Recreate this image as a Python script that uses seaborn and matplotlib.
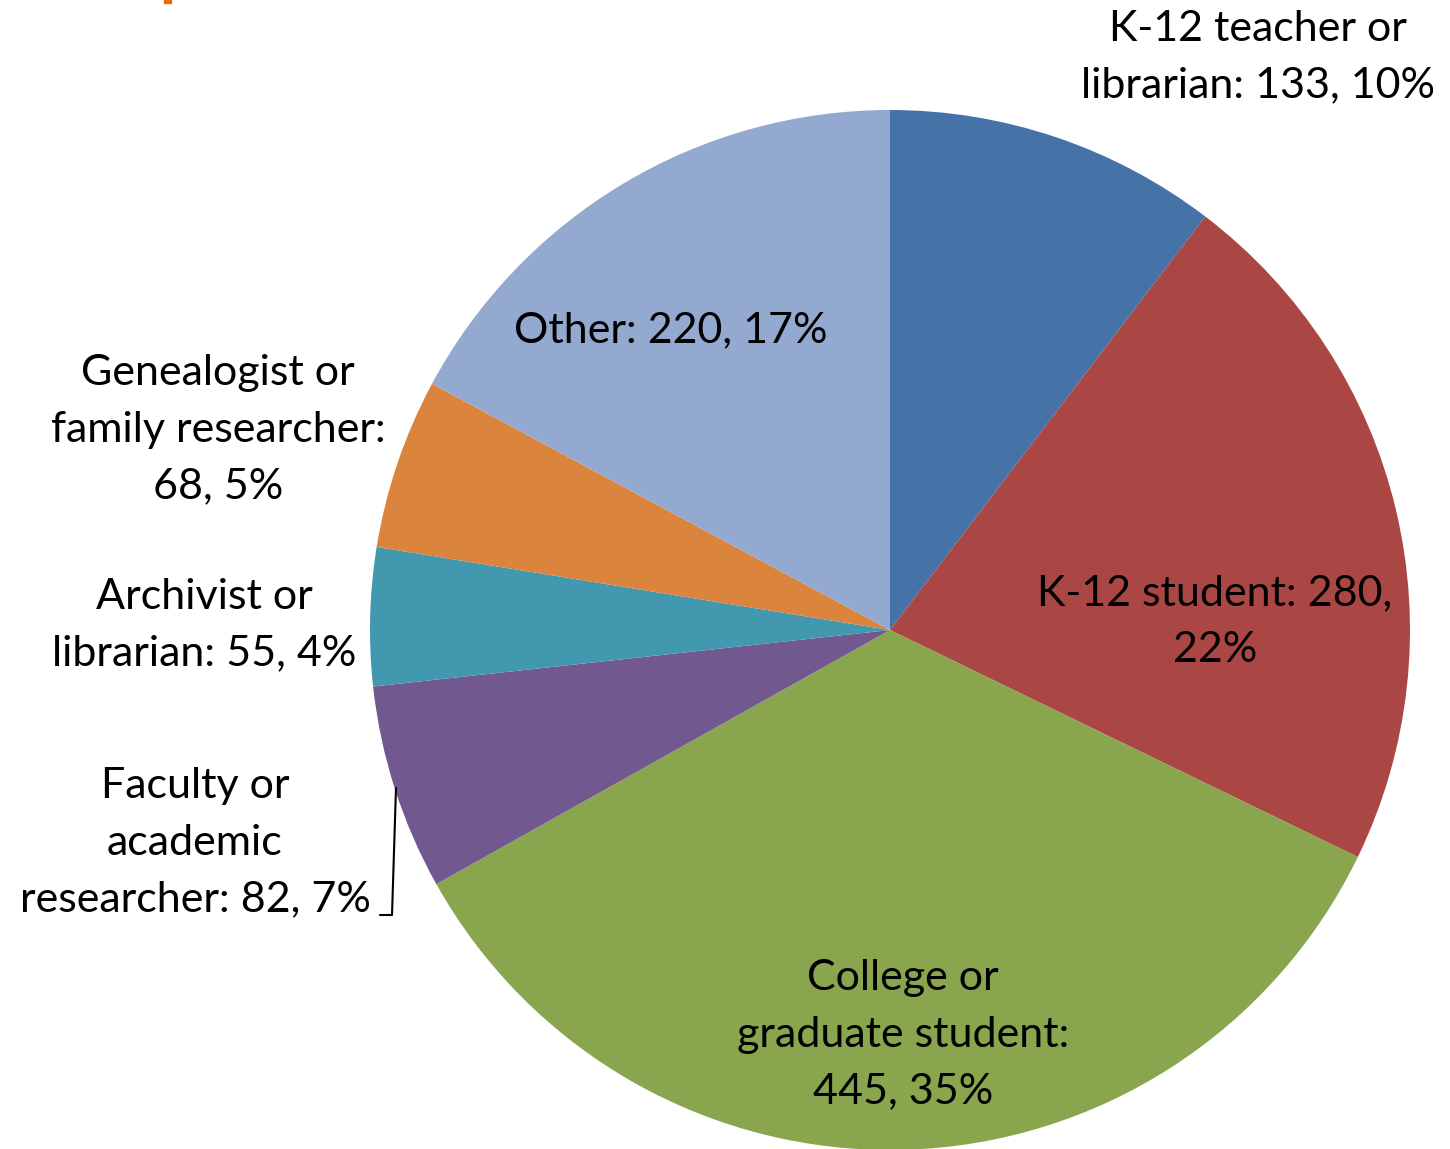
import matplotlib
matplotlib.use("Agg")
import matplotlib.pyplot as plt
import seaborn as sns

categories = ["K-12 teacher or librarian", "K-12 student", "College or graduate student",
              "Faculty or academic researcher", "Archivist or librarian",
              "Genealogist or family researcher", "Other"]
counts = [133, 280, 445, 82, 55, 68, 220]
colors = ["#4572A7", "#AA4643", "#89A54E", "#71588F", "#4198AF", "#DB843D", "#93A9CF"]
label_texts = ["K-12 teacher or\nlibrarian: 133, 10%",
               "K-12 student: 280,\n22%",
               "College or\ngraduate student:\n445, 35%",
               "Faculty or\nacademic\nresearcher: 82, 7%",
               "Archivist or\nlibrarian: 55, 4%",
               "Genealogist or\nfamily researcher:\n68, 5%",
               "Other: 220, 17%"]
# label centre positions in pixel coords (x, y from top)
label_pos = [(1258, 57), (1215, 622), (903, 1035), (195, 843), (204, 625), (218, 430), (671, 330)]

sns.set_theme(style="white")
plt.rcParams['font.family'] = ['Lato', 'DejaVu Sans']

W, H = 1450, 1149
fig = plt.figure(figsize=(W / 100, H / 100), dpi=100)
ax = fig.add_axes([0, 0, 1, 1])

cx, cy, r = 890, H - 630, 520
ax.pie(counts, colors=colors, startangle=90, counterclock=False,
       center=(cx, cy), radius=r, wedgeprops=dict(linewidth=0),
       frame=True)
ax.set_xlim(0, W)
ax.set_ylim(0, H)
ax.set_aspect("equal")
ax.axis("off")

for txt, (x, y) in zip(label_texts, label_pos):
    ax.text(x, H - y, txt, ha="center", va="center", fontsize=31,
            color="#000000", linespacing=1.6)

# leader line for Faculty label
ax.plot([396, 392, 380], [H - 788, H - 915, H - 915], color="black", lw=1.5)

# cropped title fragment at top
ax.add_patch(plt.Rectangle((164, H - 3), 7, 3, color="#E46C0A", clip_on=False))

fig.savefig("out.png", dpi=100)
